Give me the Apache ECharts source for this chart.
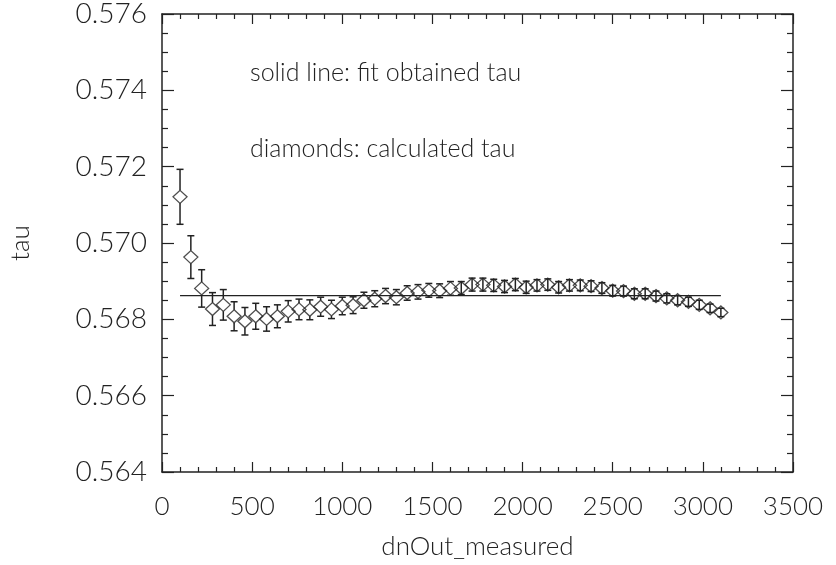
<!DOCTYPE html>
<html>
<head>
<meta charset="utf-8">
<script src="https://cdn.jsdelivr.net/npm/echarts@6/dist/echarts.min.js"></script>
<style>html,body{margin:0;padding:0;background:#fff}#c{width:836px;height:565px}</style>
</head>
<body>
<div id="c"></div>
<script>
// ---- data ----
var dnOut = [100,160,220,280,340,400,460,520,580,640,700,760,820,880,940,1000,1060,1120,1180,1240,1300,1360,1420,1480,1540,1600,1660,1720,1780,1840,1900,1960,2020,2080,2140,2200,2260,2320,2380,2440,2500,2560,2620,2680,2740,2800,2860,2920,2980,3040,3100];
var tauCalc = [0.57121,0.56963,0.56881,0.56827,0.56838,0.56808,0.56795,0.56808,0.56801,0.56808,0.56821,0.56826,0.56825,0.56833,0.56826,0.56835,0.56837,0.56850,0.56854,0.56861,0.56858,0.56869,0.56872,0.56876,0.56875,0.56881,0.56882,0.56891,0.56891,0.56889,0.56886,0.56891,0.56884,0.56889,0.56891,0.56884,0.56889,0.56889,0.56887,0.56882,0.56875,0.56874,0.56867,0.56867,0.56861,0.56855,0.56850,0.56846,0.56838,0.56829,0.56818];
var tauErr = [0.00072,0.00056,0.00049,0.00043,0.00040,0.00038,0.00036,0.00034,0.00032,0.00030,0.00028,0.00027,0.00026,0.00025,0.00024,0.00023,0.00022,0.00021,0.00021,0.00020,0.00020,0.00019,0.00019,0.00018,0.00018,0.00018,0.00017,0.00017,0.00017,0.00016,0.00016,0.00016,0.00016,0.00015,0.00015,0.00015,0.00015,0.00014,0.00014,0.00014,0.00014,0.00013,0.00013,0.00013,0.00013,0.00012,0.00012,0.00012,0.00012,0.00011,0.00011];
var fitTau = 0.56862;
var fitRange = [100, 3100];
var xTicks = {min: 0, max: 3500, step: 500};
var yTicks = {min: 0.564, max: 0.576, step: 0.002};
var note1 = 'solid line: fit obtained tau';
var note2 = 'diamonds: calculated tau';

// ---- chart ----
var FONT = 'Lato';
var INK = '#222';
var chart = echarts.init(document.getElementById('c'), null, {renderer: 'canvas'});
var pts = dnOut.map(function (x, i) { return [x, tauCalc[i], tauErr[i]]; });
var HALF = 6.5;

function axisCommon(show) {
  return {
    axisLine: {show: true, onZero: false, lineStyle: {color: INK, width: 1.5}},
    splitLine: {show: false},
    axisLabel: {show: show}
  };
}

var option = {
  backgroundColor: '#fff',
  animation: false,
  grid: {left: 162, top: 5, right: 43, bottom: 92, containLabel: false},
  textStyle: {fontFamily: FONT},
  xAxis: [
    Object.assign(axisCommon(true), {
      type: 'value', position: 'bottom', min: xTicks.min, max: xTicks.max, interval: xTicks.step,
      name: 'dnOut_measured', nameLocation: 'middle', nameGap: 62,
      nameTextStyle: {fontFamily: FONT, fontSize: 26, color: INK, fontWeight: 300},
      axisTick: {show: true, inside: true, length: 10, lineStyle: {color: INK, width: 1.2}},
      minorTick: {show: true, splitNumber: 5, length: 5, lineStyle: {color: INK, width: 1.2}},
      axisLabel: {show: true, margin: 22, fontFamily: FONT, fontSize: 26, color: INK, fontWeight: 300,
        formatter: function (v) { return String(v); }}
    }),
    Object.assign(axisCommon(false), {
      type: 'value', position: 'top', min: xTicks.min, max: xTicks.max, interval: xTicks.step,
      axisTick: {show: true, inside: true, length: 10, lineStyle: {color: INK, width: 1.2}},
      minorTick: {show: true, splitNumber: 5, length: 5, lineStyle: {color: INK, width: 1.2}}
    })
  ],
  yAxis: [
    Object.assign(axisCommon(true), {
      type: 'value', position: 'left', min: yTicks.min, max: yTicks.max, interval: yTicks.step,
      name: 'tau', nameLocation: 'middle', nameGap: 128, nameRotate: 90,
      nameTextStyle: {fontFamily: FONT, fontSize: 26, color: INK, fontWeight: 300},
      axisTick: {show: true, inside: true, length: 12, lineStyle: {color: INK, width: 1.2}},
      minorTick: {show: true, splitNumber: 4, length: 6, lineStyle: {color: INK, width: 1.2}},
      axisLabel: {show: true, margin: 15, fontFamily: FONT, fontSize: 28, color: INK, fontWeight: 300,
        formatter: function (v) { return v.toFixed(3); }}
    }),
    Object.assign(axisCommon(false), {
      type: 'value', position: 'right', min: yTicks.min, max: yTicks.max, interval: yTicks.step,
      axisTick: {show: true, inside: true, length: 12, lineStyle: {color: INK, width: 1.2}},
      minorTick: {show: true, splitNumber: 4, length: 6, lineStyle: {color: INK, width: 1.2}}
    })
  ],
  graphic: [
    {type: 'text', left: 250, top: 60, style: {text: note1, font: '300 25px ' + FONT, fill: INK}},
    {type: 'text', left: 250, top: 136, style: {text: note2, font: '300 25px ' + FONT, fill: INK}}
  ],
  series: [
    {
      type: 'line', xAxisIndex: 0, yAxisIndex: 0,
      data: [[fitRange[0], fitTau], [fitRange[1], fitTau]],
      symbol: 'none', lineStyle: {color: INK, width: 1.2}, z: 2
    },
    {
      type: 'custom', xAxisIndex: 0, yAxisIndex: 0,
      data: pts, z: 3,
      renderItem: function (params, api) {
        var x = api.value(0), y = api.value(1), e = api.value(2);
        var c = api.coord([x, y]);
        var top = api.coord([x, y + e])[1];
        var bot = api.coord([x, y - e])[1];
        var cap = 3.5;
        var st = {stroke: INK, lineWidth: 1.5};
        var ch = [];
        if (c[1] - top > HALF) {
          ch.push({type: 'line', shape: {x1: c[0], y1: top, x2: c[0], y2: c[1] - HALF}, style: st});
          ch.push({type: 'line', shape: {x1: c[0], y1: c[1] + HALF, x2: c[0], y2: bot}, style: st});
        } else {
          ch.push({type: 'line', shape: {x1: c[0], y1: top, x2: c[0], y2: bot}, style: st});
        }
        ch.push({type: 'line', shape: {x1: c[0] - cap, y1: top, x2: c[0] + cap, y2: top}, style: st});
        ch.push({type: 'line', shape: {x1: c[0] - cap, y1: bot, x2: c[0] + cap, y2: bot}, style: st});
        return {type: 'group', children: ch};
      }
    },
    {
      type: 'scatter', xAxisIndex: 0, yAxisIndex: 0,
      data: pts.map(function (p) { return [p[0], p[1]]; }),
      symbol: 'diamond', symbolSize: [14, 13],
      itemStyle: {color: 'rgba(0,0,0,0)', borderColor: INK, borderWidth: 1.3},
      z: 4
    }
  ]
};
chart.setOption(option);
</script>
</body>
</html>
